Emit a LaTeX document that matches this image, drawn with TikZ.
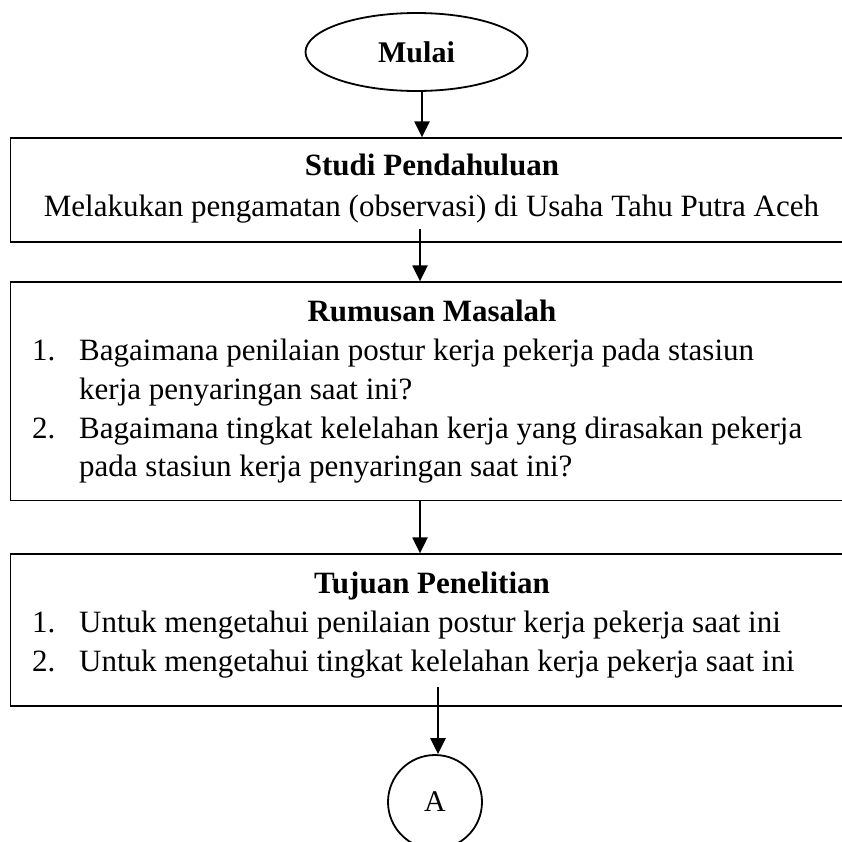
\documentclass[tikz,border=0pt]{standalone}
\usepackage{fontspec}
\setmainfont{Liberation Serif}
\usetikzlibrary{shapes.geometric,arrows.meta}
\begin{document}
\begin{tikzpicture}[x=1pt,y=-1pt,
  txt/.style={font=\fontsize{31}{36}\selectfont, inner sep=0pt, anchor=base},
  head/.style={font=\fontsize{31}{36}\selectfont\bfseries, inner sep=0pt, anchor=base},
  item/.style={font=\fontsize{31}{36}\selectfont, inner sep=0pt, anchor=base west},
  box/.style={draw, line width=1.3pt, inner sep=0pt},
  flow/.style={line width=2.3pt, -{Triangle[length=16pt,width=15pt]}}]
\useasboundingbox (0,0) rectangle (842,841);
% terminator
\node[draw, ellipse, line width=1.8pt, minimum width=222pt, minimum height=78pt, inner sep=0pt,
      font=\fontsize{30}{36}\selectfont\bfseries] (mulai) at (416.5,52) {Mulai};
% boxes
\node[box, minimum width=843pt, minimum height=104pt] (b1) at (432,190) {};
\node[box, minimum width=843pt, minimum height=218.5pt] (b2) at (432,391.25) {};
\node[box, minimum width=843pt, minimum height=152pt] (b3) at (432,630) {};
% connector circle
\node[draw, circle, line width=1.8pt, minimum size=94pt, inner sep=0pt,
      font=\fontsize{30}{34}\selectfont] (A) at (435,802) {A};
% box 1 text
\node[head] (t1) at (432,175) {Studi Pendahuluan};
\node[txt] (t1b) at (431.5,216) {Melakukan pengamatan (observasi) di Usaha Tahu Putra Aceh};
% box 2 text
\node[head] (t2) at (432,321) {Rumusan Masalah};
\node[item] (n21) at (32,360) {1.};
\node[item] (i21a) at (79,360) {Bagaimana penilaian postur kerja pekerja pada stasiun};
\node[item] (i21b) at (79,399) {kerja penyaringan saat ini?};
\node[item] (n22) at (32,438) {2.};
\node[item] (i22a) at (79,438) {Bagaimana tingkat kelelahan kerja yang dirasakan pekerja};
\node[item] (i22b) at (79,476) {pada stasiun kerja penyaringan saat ini?};
% box 3 text
\node[head] (t3) at (432,593) {Tujuan Penelitian};
\node[item] (n31) at (32,632) {1.};
\node[item] (i31) at (79,632) {Untuk mengetahui penilaian postur kerja pekerja saat ini};
\node[item] (n32) at (32,671) {2.};
\node[item] (i32) at (79,671) {Untuk mengetahui tingkat kelelahan kerja pekerja saat ini};
% connectors
\coordinate (s1) at (422,91);
\draw[flow] (s1) -- (s1 |- b1.north);
\coordinate (s2) at (420,229);
\draw[flow] (s2) -- (s2 |- b2.north);
\coordinate (s3) at (420,500.5);
\draw[flow] (s3) -- (s3 |- b3.north);
\coordinate (s4) at (438,687);
\draw[flow] (s4) -- (s4 |- A.north);
\end{tikzpicture}
\end{document}
